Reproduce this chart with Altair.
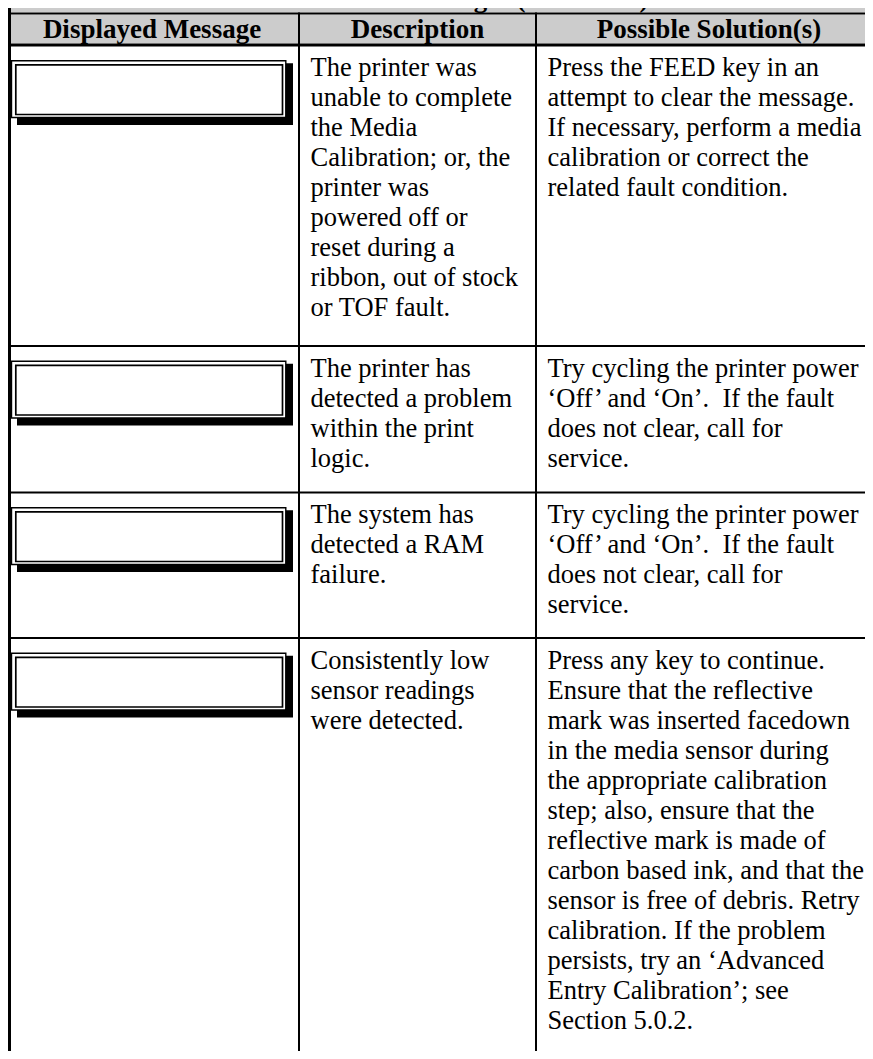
import altair as alt
import pandas as pd

# ---------------- data (text content of the table) ----------------
TITLE = "Printer Error Messages (continued)"
HEADERS = ["Displayed Message", "Description", "Possible Solution(s)"]

DESCRIPTIONS = [
    ["The printer was", "unable to complete", "the Media", "Calibration; or, the",
     "printer was", "powered off or", "reset during a", "ribbon, out of stock",
     "or TOF fault."],
    ["The printer has", "detected a problem", "within the print", "logic."],
    ["The system has", "detected a RAM", "failure."],
    ["Consistently low", "sensor readings", "were detected."],
]

SOLUTIONS = [
    ["Press the FEED key in an", "attempt to clear the message.",
     "If necessary, perform a media", "calibration or correct the",
     "related fault condition."],
    ["Try cycling the printer power", "\u2018Off\u2019 and \u2018On\u2019.\u00a0 If the fault",
     "does not clear, call for", "service."],
    ["Try cycling the printer power", "\u2018Off\u2019 and \u2018On\u2019.\u00a0 If the fault",
     "does not clear, call for", "service."],
    ["Press any key to continue.", "Ensure that the reflective",
     "mark was inserted facedown", "in the media sensor during",
     "the appropriate calibration", "step; also, ensure that the",
     "reflective mark is made of", "carbon based ink, and that the",
     "sensor is free of debris. Retry", "calibration. If the problem",
     "persists, try an \u2018Advanced", "Entry Calibration\u2019; see",
     "Section 5.0.2."],
]

# ---------------- layout (page pixel coordinates) ----------------
M = 8
W, H = 873 - 2 * M, 1059 - 2 * M
FONT = "Liberation Serif"
FS = 26.5
HEAD_FS = 27
LINE_H = 30
GRAY = "#cccccc"

TABLE_L, TABLE_R = 8, 881
DIV1, DIV2 = (298, 300), (535, 537)
ROW_TOPS = [46.5, 347, 493.5, 639]
ROW_RULES = [(345, 347), (491.5, 493.5), (637, 639)]
COL_TEXT_X = [310.5, 547.5]
HEAD_X = [152, 417.5, 709]

xs = alt.Scale(domain=[M, M + W], range=[0, W], nice=False, zero=False)
ys = alt.Scale(domain=[M, M + H], range=[0, H], nice=False, zero=False)


def rect_layer(rows, **mark):
    df = pd.DataFrame(rows, columns=["x0", "x1", "y0", "y1"])
    return alt.Chart(df).mark_rect(clip=True, **mark).encode(
        x=alt.X("x0:Q", scale=xs, axis=None),
        x2="x1:Q",
        y=alt.Y("y0:Q", scale=ys, axis=None),
        y2="y1:Q",
    )


# gray title + header band
gray = rect_layer([(TABLE_L, TABLE_R, 0, 12.5), (TABLE_L, TABLE_R, 14.5, 43.5)], fill=GRAY)

# message boxes in first column (relative to row top)
shadow = rect_layer([(17, 293, t + 16.8, t + 78.5) for t in ROW_TOPS], fill="black")
outer = rect_layer([(11.5, 285.8, t + 14.2, t + 71.0) for t in ROW_TOPS],
                   fill="white", stroke="black", strokeWidth=1.4)
inner = rect_layer([(15.8, 282.5, t + 18.3, t + 68.0) for t in ROW_TOPS],
                   fill="white", stroke="black", strokeWidth=1.7)

# table rules
rules_rows = [
    (TABLE_L, 11, 0, 1059),               # left border
    (DIV1[0], DIV1[1], 12.5, 1059),       # column divider 1
    (DIV2[0], DIV2[1], 12.5, 1059),       # column divider 2
    (TABLE_L, TABLE_R, 12.5, 14.5),       # title / header separator
    (TABLE_L, TABLE_R, 43.5, 46.5),       # header bottom
] + [(TABLE_L, TABLE_R, a, b) for a, b in ROW_RULES]
rules = rect_layer(rules_rows, fill="black")

# header texts
head_df = pd.DataFrame({"x": HEAD_X, "y": [37.5] * 3, "t": HEADERS})
heads = alt.Chart(head_df).mark_text(
    font=FONT, fontSize=HEAD_FS, fontWeight="bold", align="center",
    baseline="alphabetic", color="black", clip=True,
).encode(x=alt.X("x:Q", scale=xs, axis=None), y=alt.Y("y:Q", scale=ys, axis=None), text="t:N")

# title (mostly cut off at the top of the page, as in the source)
title_df = pd.DataFrame({"x": [443.5], "y": [6.5], "t": [TITLE]})
title = alt.Chart(title_df).mark_text(
    font=FONT, fontSize=HEAD_FS, fontWeight="bold", align="center",
    baseline="alphabetic", color="black", clip=True,
).encode(x=alt.X("x:Q", scale=xs, axis=None), y=alt.Y("y:Q", scale=ys, axis=None), text="t:N")

# body texts
body_rows = []
for i, top in enumerate(ROW_TOPS):
    body_rows.append({"x": COL_TEXT_X[0], "y": top + 29.5, "t": "\n".join(DESCRIPTIONS[i])})
    body_rows.append({"x": COL_TEXT_X[1], "y": top + 29.5, "t": "\n".join(SOLUTIONS[i])})
body_df = pd.DataFrame(body_rows)
body = alt.Chart(body_df).mark_text(
    font=FONT, fontSize=FS, align="left", baseline="alphabetic",
    lineBreak="\n", lineHeight=LINE_H, color="black", clip=True,
).encode(x=alt.X("x:Q", scale=xs, axis=None), y=alt.Y("y:Q", scale=ys, axis=None), text="t:N")

chart = alt.layer(gray, shadow, outer, inner, rules, heads, title, body).properties(
    width=W, height=H, padding=0, autosize=alt.AutoSizeParams(type="none"),
    background="white",
).configure_view(strokeWidth=0)

chart.save("out.html", embed_options={"renderer": "svg", "actions": False})
